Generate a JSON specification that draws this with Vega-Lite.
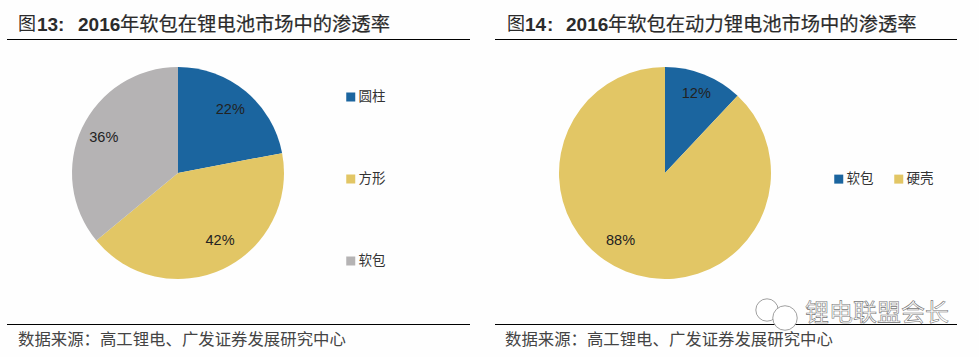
{
"$schema":"https://vega.github.io/schema/vega-lite/v6.json",
"padding":0,"spacing":0,"background":"#fefefe",
"config":{"view":{"stroke":null},"font":"Noto Sans CJK SC","concat":{"spacing":0}},
"resolve":{"scale":{"color":"independent"},"legend":{"color":"independent"}},
"hconcat":[
{"width":489,"height":357,
"layer":[
{"data":{"values":[{"t":"图"}]},"mark":{"type":"text","align":"left","baseline":"middle","fontSize":18,"fill":"#2b2b2b"},"encoding":{"text":{"field":"t"},"x":{"value":18},"y":{"value":25}}},
{"data":{"values":[{"t":"13"}]},"mark":{"type":"text","align":"left","baseline":"middle","fontSize":19,"fontWeight":"bold","font":"Liberation Sans","fill":"#2b2b2b"},"encoding":{"text":{"field":"t"},"x":{"value":37},"y":{"value":25}}},
{"data":{"values":[{"t":":"}]},"mark":{"type":"text","align":"left","baseline":"middle","fontSize":19,"fontWeight":"bold","font":"Liberation Sans","fill":"#2b2b2b"},"encoding":{"text":{"field":"t"},"x":{"value":58},"y":{"value":25}}},
{"data":{"values":[{"t":"2016"}]},"mark":{"type":"text","align":"left","baseline":"middle","fontSize":19,"fontWeight":"bold","font":"Liberation Sans","fill":"#2b2b2b"},"encoding":{"text":{"field":"t"},"x":{"value":78},"y":{"value":25}}},
{"data":{"values":[{"t":"年软包在锂电池市场中的渗透率"}]},"mark":{"type":"text","align":"left","baseline":"middle","fontSize":19.3,"fill":"#2b2b2b","stroke":"#2b2b2b","strokeWidth":0.2},"encoding":{"text":{"field":"t"},"x":{"value":120},"y":{"value":25}}},
{"data":{"values":[{"t":"数据来源：高工锂电、广发证券发展研究中心"}]},"mark":{"type":"text","align":"left","baseline":"middle","fontSize":16.4,"fill":"#444444"},"encoding":{"text":{"field":"t"},"x":{"value":18},"y":{"value":340}}},
{"data":{"values":[{"l":"top"}]},"mark":{"type":"rule","stroke":"#000000","strokeWidth":1.2},"encoding":{"x":{"value":7},"x2":{"value":470},"y":{"value":39.5}}},
{"data":{"values":[{"l":"bottom"}]},"mark":{"type":"rule","stroke":"#000000","strokeWidth":1.2},"encoding":{"x":{"value":7},"x2":{"value":470},"y":{"value":324.5}}},
{"data":{"name":"a","values":[{"name":"圆柱","v":22,"i":1},{"name":"方形","v":42,"i":2},{"name":"软包","v":36,"i":3}]},
"mark":{"type":"arc","outerRadius":106},
"encoding":{"x":{"value":178},"y":{"value":173},"theta":{"field":"v","type":"quantitative","stack":true},"order":{"field":"i"},
"color":{"field":"name","type":"nominal","scale":{"domain":["圆柱","方形","软包"],"range":["#1b659f","#e2c665","#b5b3b4"]},
"legend":{"title":null,"orient":"none","direction":"vertical","legendX":344,"legendY":89,"symbolType":"square","symbolSize":81,"symbolStrokeWidth":0,"labelFontSize":13.5,"labelColor":"#333333","rowPadding":66,"labelOffset":1,"symbolOpacity":1,"clipHeight":16}}}},
{"data":{"name":"a"},"transform":[{"calculate":"datum.v+'%'","as":"p"}],"mark":{"type":"text","radius":82,"fontSize":14.5,"font":"Liberation Sans","fill":"#222222"},
"encoding":{"x":{"value":178},"y":{"value":173},"theta":{"field":"v","type":"quantitative","stack":true},"order":{"field":"i"},"detail":{"field":"name"},"text":{"field":"p"},"opacity":{"condition":{"test":"datum.v!=42","value":1},"value":0}}},
{"data":{"name":"a"},"transform":[{"calculate":"datum.v+'%'","as":"p"}],"mark":{"type":"text","radius":80,"dx":8,"dy":-4,"fontSize":14.5,"font":"Liberation Sans","fill":"#222222"},
"encoding":{"x":{"value":178},"y":{"value":173},"theta":{"field":"v","type":"quantitative","stack":true},"order":{"field":"i"},"detail":{"field":"name"},"text":{"field":"p"},"opacity":{"condition":{"test":"datum.v==42","value":1},"value":0}}}
]},
{"width":490,"height":357,
"layer":[
{"data":{"values":[{"t":"图"}]},"mark":{"type":"text","align":"left","baseline":"middle","fontSize":18,"fill":"#2b2b2b"},"encoding":{"text":{"field":"t"},"x":{"value":18},"y":{"value":25}}},
{"data":{"values":[{"t":"14"}]},"mark":{"type":"text","align":"left","baseline":"middle","fontSize":19,"fontWeight":"bold","font":"Liberation Sans","fill":"#2b2b2b"},"encoding":{"text":{"field":"t"},"x":{"value":36},"y":{"value":25}}},
{"data":{"values":[{"t":":"}]},"mark":{"type":"text","align":"left","baseline":"middle","fontSize":19,"fontWeight":"bold","font":"Liberation Sans","fill":"#2b2b2b"},"encoding":{"text":{"field":"t"},"x":{"value":58},"y":{"value":25}}},
{"data":{"values":[{"t":"2016"}]},"mark":{"type":"text","align":"left","baseline":"middle","fontSize":19,"fontWeight":"bold","font":"Liberation Sans","fill":"#2b2b2b"},"encoding":{"text":{"field":"t"},"x":{"value":77},"y":{"value":25}}},
{"data":{"values":[{"t":"年软包在动力锂电池市场中的渗透率"}]},"mark":{"type":"text","align":"left","baseline":"middle","fontSize":19.3,"fill":"#2b2b2b","stroke":"#2b2b2b","strokeWidth":0.2},"encoding":{"text":{"field":"t"},"x":{"value":119},"y":{"value":25}}},
{"data":{"values":[{"t":"数据来源：高工锂电、广发证券发展研究中心"}]},"mark":{"type":"text","align":"left","baseline":"middle","fontSize":16.4,"fill":"#444444"},"encoding":{"text":{"field":"t"},"x":{"value":16},"y":{"value":340}}},
{"data":{"values":[{"l":"top"}]},"mark":{"type":"rule","stroke":"#000000","strokeWidth":1.2},"encoding":{"x":{"value":6},"x2":{"value":468},"y":{"value":39.5}}},
{"data":{"values":[{"l":"bottom"}]},"mark":{"type":"rule","stroke":"#000000","strokeWidth":1.2},"encoding":{"x":{"value":6},"x2":{"value":468},"y":{"value":324.5}}},
{"data":{"name":"b","values":[{"name":"软包","v":12,"i":1},{"name":"硬壳","v":88,"i":2}]},
"mark":{"type":"arc","outerRadius":106},
"encoding":{"x":{"value":176},"y":{"value":173},"theta":{"field":"v","type":"quantitative","stack":true},"order":{"field":"i"},
"color":{"field":"name","type":"nominal","scale":{"domain":["软包","硬壳"],"range":["#1b659f","#e2c665"]},
"legend":{"title":null,"orient":"none","legendX":343,"legendY":172,"direction":"horizontal","columns":2,"columnPadding":18,"symbolType":"square","symbolSize":81,"symbolStrokeWidth":0,"labelFontSize":13.5,"labelColor":"#333333","labelOffset":1,"symbolOpacity":1}}}},
{"data":{"name":"b"},"transform":[{"calculate":"datum.v+'%'","as":"p"}],"mark":{"type":"text","radius":85,"fontSize":14.5,"font":"Liberation Sans","fill":"#222222"},
"encoding":{"x":{"value":176},"y":{"value":173},"theta":{"field":"v","type":"quantitative","stack":true},"order":{"field":"i"},"detail":{"field":"name"},"text":{"field":"p"},"opacity":{"condition":{"test":"datum.v==12","value":1},"value":0}}},
{"data":{"name":"b"},"transform":[{"calculate":"datum.v+'%'","as":"p"}],"mark":{"type":"text","radius":80,"dx":-15,"dy":-6,"fontSize":14.5,"font":"Liberation Sans","fill":"#222222"},
"encoding":{"x":{"value":176},"y":{"value":173},"theta":{"field":"v","type":"quantitative","stack":true},"order":{"field":"i"},"detail":{"field":"name"},"text":{"field":"p"},"opacity":{"condition":{"test":"datum.v==88","value":1},"value":0}}},
{"data":{"values":[{"k":"a"}]},"mark":{"type":"point","shape":"circle","size":500,"filled":true,"fill":"#ffffff","stroke":"#888888","strokeWidth":0.8,"opacity":1},"encoding":{"x":{"value":278},"y":{"value":310}}},
{"data":{"values":[{"k":"b"}]},"mark":{"type":"point","shape":"circle","size":600,"filled":true,"fill":"#ffffff","stroke":"#888888","strokeWidth":0.8,"opacity":1},"encoding":{"x":{"value":296},"y":{"value":318}}},
{"data":{"values":[{"t":"锂电联盟会长"}]},"mark":{"type":"text","align":"left","baseline":"middle","fontSize":24,"fill":"#ffffff","stroke":"#777777","strokeWidth":0.6},"encoding":{"text":{"field":"t"},"x":{"value":316},"y":{"value":314}}}
]}
]}
